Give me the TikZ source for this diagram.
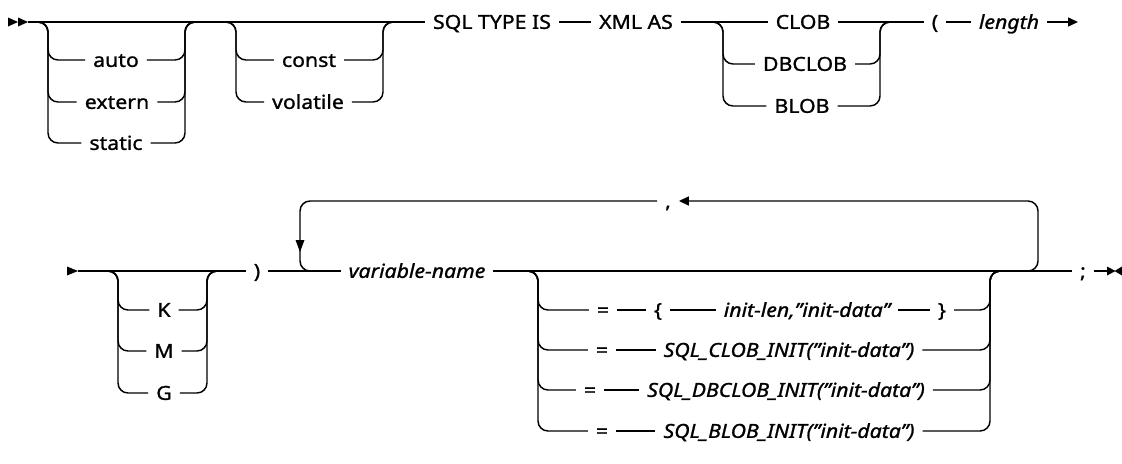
\documentclass[tikz,border=0pt]{standalone}
\usepackage{fontspec}
\setmainfont{Noto Sans}[FakeStretch=1.1,FakeBold=1.1]
\usetikzlibrary{arrows.meta,calc}
\begin{document}
\begin{tikzpicture}[x=0.75pt,y=-0.75pt,
  line width=1.1pt,
  rr/.style={rounded corners=7.5pt},
  kw/.style={font=\fontsize{14.5pt}{17pt}\selectfont, inner xsep=5.5pt, inner ysep=0pt, text height=10.3pt, text depth=0pt},
  it/.style={kw, font=\fontsize{14.5pt}{17pt}\selectfont\itshape},
  tip/.style={-{Triangle[length=7.5pt,width=6.75pt]}},
]
\useasboundingbox (0,0) rectangle (1122,464);

% ---------- row 1 ----------
\fill (8,17.5) -- (18,22) -- (8,26.5) -- cycle;
\fill (18,17.5) -- (28,22) -- (18,26.5) -- cycle;
\coordinate (st1) at (28,22);
\node[kw] (sqltype) at (492,22) {SQL TYPE IS};
\node[kw] (xmlas) at (636,22) {XML AS};
\node[kw] (auto) at (116,60) {auto};
\node[kw] (extern) at (117,102) {extern};
\node[kw] (static) at (116,143) {static};
\node[kw] (const) at (309,60) {const};
\node[kw] (volatile) at (308,102) {volatile};
\node[kw] (clob) at (803,22) {CLOB};
\node[kw] (dbclob) at (805,64) {DBCLOB};
\node[kw] (blob) at (802,106) {BLOB};
\node[kw] (lpar) at (935,22) {(};
\node[it] (length) at (1009,22) {length};
\coordinate (end1) at (1078,22);
\coordinate (aL) at (48,22);  \coordinate (aR) at (185,22);
\coordinate (bL) at (236,22); \coordinate (bR) at (383,22);
\coordinate (cL) at (723,22); \coordinate (cR) at (880,22);

\draw (st1) -- (sqltype.west);
\draw (sqltype.east) -- (xmlas.west);
\draw (xmlas.east) -- (clob.west);
\draw (clob.east) -- (lpar.west);
\draw (lpar.east) -- (length.west);
\draw[tip] (length.east) -- (end1);

\foreach \n in {auto,extern,static} {
  \draw[rr] ($(aL)+(-20,0)$) -- (aL) -- (aL |- \n) -- (\n.west);
  \draw[rr] (\n.east) -- (aR |- \n) -- (aR) -- ($(aR)+(20,0)$);
}
\foreach \n in {const,volatile} {
  \draw[rr] ($(bL)+(-20,0)$) -- (bL) -- (bL |- \n) -- (\n.west);
  \draw[rr] (\n.east) -- (bR |- \n) -- (bR) -- ($(bR)+(20,0)$);
}
\foreach \n in {dbclob,blob} {
  \draw[rr] ($(cL)+(-20,0)$) -- (cL) -- (cL |- \n) -- (\n.west);
  \draw[rr] (\n.east) -- (cR |- \n) -- (cR) -- ($(cR)+(20,0)$);
}

% ---------- row 2 ----------
\fill (67,266.5) -- (78,271) -- (67,275.5) -- cycle;
\coordinate (st2) at (78,271);
\node[kw] (K) at (164,310) {K};
\node[kw] (M) at (164,351) {M};
\node[kw] (G) at (164,393) {G};
\node[kw] (rpar) at (257,271) {)};
\node[it] (varname) at (417,271) {variable-name};
\node[kw] (comma) at (668,201) {,};
\node[kw] (semi) at (1083,271) {;};
\node[kw] (eq1) at (603,310) {=};
\node[kw] (lbrace) at (658,310) {\{};
\node[it] (initlen) at (807,310) {init-len,"init-data"};
\node[kw] (rbrace) at (942,310) {\}};
\node[kw] (eq2) at (602,350) {=};
\node[it] (clobinit) at (789,350) {SQL\_CLOB\_INIT("init-data")};
\node[kw] (eq3) at (590,390) {=};
\node[it] (dbclobinit) at (786,390) {SQL\_DBCLOB\_INIT("init-data")};
\node[kw] (eq4) at (602,431) {=};
\node[it] (blobinit) at (789,431) {SQL\_BLOB\_INIT("init-data")};

\coordinate (dL) at (118,271); \coordinate (dR) at (207,271);
\coordinate (eL) at (538,271); \coordinate (eR) at (990,271);
\coordinate (lpT) at (300,201); \coordinate (rpT) at (1038,201);
\coordinate (end2) at (1107,271);

\draw (st2) -- (rpar.west);
\draw (rpar.east) -- (varname.west);
\draw (varname.east) -- (semi.west);
\draw (semi.east) -- (end2);
\fill (1107,266.5) -- (1115.5,271) -- (1107,275.5) -- cycle;
\fill (1122,266.5) -- (1114.5,271) -- (1122,275.5) -- cycle;

\foreach \n in {K,M,G} {
  \draw[rr] ($(dL)+(-20,0)$) -- (dL) -- (dL |- \n) -- (\n.west);
  \draw[rr] (\n.east) -- (dR |- \n) -- (dR) -- ($(dR)+(20,0)$);
}

% repeat loop
\draw[rr] ($(lpT |- varname)+(22,0)$) -- (lpT |- varname) -- (lpT) -- (comma.west);
\fill (295.5,240) -- (304.5,240) -- (300,252) -- cycle;
\draw[rr,tip] ($(rpT |- varname)+(-22,0)$) -- (rpT |- varname) -- (rpT) -- (comma.east);

% initialisers
\foreach \a/\b in {eq1/rbrace,eq2/clobinit,eq3/dbclobinit,eq4/blobinit} {
  \draw[rr] ($(eL)+(-20,0)$) -- (eL) -- (eL |- \a) -- (\a.west);
  \draw[rr] (\b.east) -- (eR |- \b) -- (eR) -- ($(eR)+(20,0)$);
}
\draw (eq1.east) -- (lbrace.west);
\draw (lbrace.east) -- (initlen.west);
\draw (initlen.east) -- (rbrace.west);
\draw (eq2.east) -- (clobinit.west);
\draw (eq3.east) -- (dbclobinit.west);
\draw (eq4.east) -- (blobinit.west);
\end{tikzpicture}
\end{document}
